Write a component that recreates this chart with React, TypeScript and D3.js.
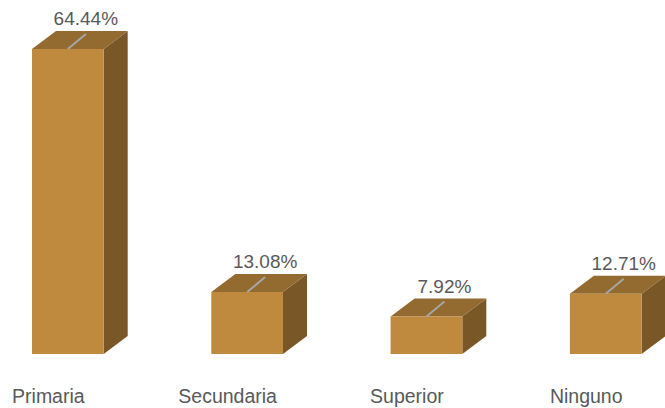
import React from "react";
import * as d3 from "d3";

const categories = ["Primaria", "Secundaria", "Superior", "Ninguno"];
const values = [64.44, 13.08, 7.92, 12.71];
const valueLabels = ["64.44%", "13.08%", "7.92%", "12.71%"];

const W = 665;
const H = 408;
const BASE = 354;
const DX = 24;
const DY = 18;

export default function App() {
  const x = d3
    .scaleBand<string>()
    .domain(categories)
    .range([-21.8, 695.4])
    .paddingInner(0.6)
    .paddingOuter(0.3);
  const y = d3.scaleLinear().domain([0, 70]).range([BASE, BASE - 70 * (305 / 64.44)]);
  const bw = x.bandwidth();
  const font = "'Liberation Sans', Arial, sans-serif";

  return (
    <svg
      width={W}
      height={H}
      style={{ position: "fixed", left: 0, top: 0, background: "#fff" }}
    >
      {categories.map((c, i) => {
        const x0 = x(c)!;
        const x1 = x0 + bw;
        const yt = y(values[i]);
        const cx = x0 + bw / 2;
        const labX = Math.min(cx + 18, W - 36);
        const labY = yt - 24;
        const front = `M${x0},${yt}L${x1},${yt}L${x1},${BASE}L${x0},${BASE}Z`;
        const top = `M${x0},${yt}L${x0 + DX},${yt - DY}L${x1 + DX},${yt - DY}L${x1},${yt}Z`;
        const side = `M${x1},${yt}L${x1 + DX},${yt - DY}L${x1 + DX},${BASE - DY}L${x1},${BASE}Z`;
        return (
          <g key={c}>
            <path d={side} fill="#7A5727" />
            <path d={top} fill="#936A2F" />
            <path d={front} fill="#BF8A3D" />
            <line
              x1={cx}
              y1={yt}
              x2={labX}
              y2={labY + 9}
              stroke="#A6A6A6"
              strokeWidth={2}
            />
            <text
              x={labX}
              y={labY}
              textAnchor="middle"
              fontFamily={font}
              fontSize={19}
              fill="#595959"
            >
              {valueLabels[i]}
            </text>
            <text
              x={cx - 19.5}
              y={403}
              textAnchor="middle"
              fontFamily={font}
              fontSize={19.5}
              fill="#595959"
            >
              {c}
            </text>
          </g>
        );
      })}
    </svg>
  );
}
